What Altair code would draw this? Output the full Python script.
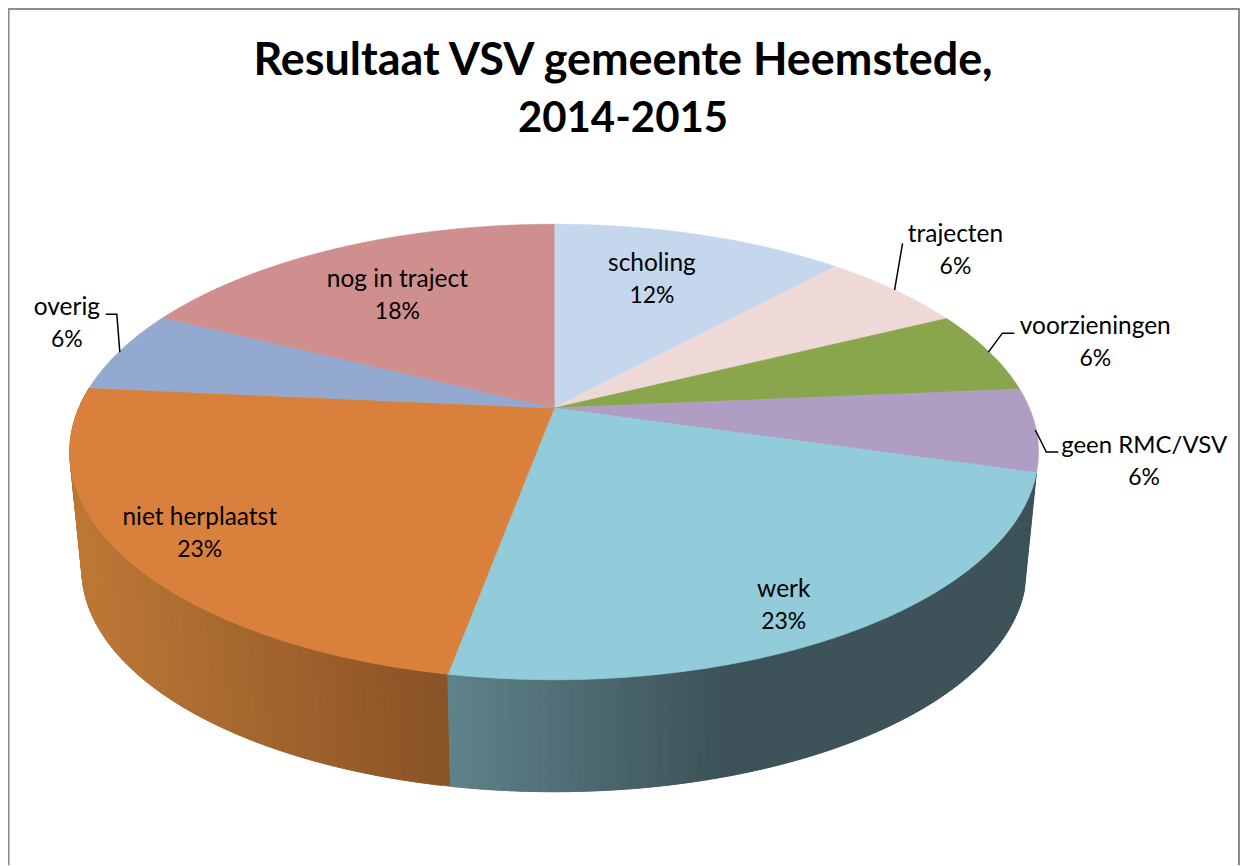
import math
import altair as alt
import pandas as pd

# --- chart data
categories = ["scholing", "trajecten", "voorzieningen", "geen RMC/VSV", "werk",
              "niet herplaatst", "overig", "nog in traject"]
slice_shares = [11.8, 5.9, 5.9, 5.9, 23.4, 23.6, 5.9, 17.6]
percent_labels = ["12%", "6%", "6%", "6%", "23%", "23%", "6%", "18%"]
title_lines = ["Resultaat VSV gemeente Heemstede,", "2014-2015"]

# --- styling and layout (page coordinates)
title_sizes = [45, 42]
name_sizes = [24.5, 24.5, 24.5, 24, 24.5, 24.5, 24.5, 24.5]
top_colors = ["#C5D7EC", "#EFD9D6", "#8AA64D", "#B09DC4", "#92CBDA", "#D9813C", "#93A9CF", "#CE8F8E"]
label_x = [653, 957, 1097, 1146, 785, 200, 67, 398]
label_y = [264, 235, 327, 446, 590, 518, 308, 280]
leaders = {
    "trajecten": [(896, 290), (904, 243)],
    "voorzieningen": [(990, 352), (1004, 333), (1016, 333)],
    "geen RMC/VSV": [(1037, 430), (1048, 452), (1060, 452)],
    "overig": [(120, 352), (117, 314), (106, 314)],
}
X0, X1, Y0, Y1 = 8, 1243, 8, 866
CX, CY, R, S, K = 555, 408, 476, 219.6, 0.193   # perspective of the disc
F, DY = 0.975, 119                                # lower rim of the wall


def top_pt(deg):
    a = math.radians(deg)
    u, v = math.sin(a), math.cos(a)
    w = 1 + K * v
    return CX + R * u / w, CY - S * v / w


def bot_pt(deg):
    x, y = top_pt(deg)
    return CX + F * (x - CX), CY + DY + F * (y - CY)


def mix(c1, c2, t):
    t = max(0.0, min(1.0, t))
    return "#" + "".join(f"{round(a + (b - a) * t):02x}" for a, b in zip(c1, c2))


def wall_color(name, x):
    if name == "werk":
        return mix((0x60, 0x84, 0x8C), (0x3D, 0x53, 0x59), (x - 450) / 280)
    return mix((0xBC, 0x77, 0x36), (0x8A, 0x53, 0x26), (x - 90) / 360)


def feature(ring, color):
    ring = [list(p) for p in ring]
    return {"type": "Feature",
            "geometry": {"type": "Polygon", "coordinates": [ring + [ring[0]]]},
            "properties": {"color": color}}


total = sum(slice_shares)
edges = [0.0]
for p in slice_shares:
    edges.append(edges[-1] + 360.0 * p / total)

features = [feature([(X0, Y0), (X1, Y0), (X1, Y1), (X0, Y1)], "transparent")]
# side wall: the two front slices, in narrow shaded strips painted from left to right,
# each overlapping the one before it so that no seams show
for i, name in reversed(list(enumerate(categories))):
    if name in ("werk", "niet herplaatst"):
        a = edges[i + 1]
        while a > edges[i] + 1e-6:
            b = max(a - 1.0, edges[i])
            x_mid = top_pt((a + b) / 2)[0]
            col = wall_color(name, x_mid)
            hi = min(a + 1.0, edges[i + 1])
            features.append(feature([top_pt(b), top_pt(hi), bot_pt(hi), bot_pt(b)], col))
            a = b
# top face
for i, name in enumerate(categories):
    n = max(2, int(edges[i + 1] - edges[i]) * 2)
    rim = [top_pt(edges[i] + (edges[i + 1] - edges[i]) * j / n) for j in range(n + 1)]
    features.append(feature([(CX, CY)] + rim, top_colors[i]))

shapes = alt.Chart(alt.Data(values=features)).mark_geoshape(strokeWidth=0.7).encode(
    color=alt.Color("properties.color:N", scale=None),
    stroke=alt.Stroke("properties.color:N", scale=None),
).project(type="identity")

xs = alt.Scale(domain=[X0, X1], nice=False, zero=False)
ys = alt.Scale(domain=[Y0, Y1], nice=False, zero=False, reverse=True)
X = lambda f: alt.X(f, scale=xs, axis=None)
Y = lambda f: alt.Y(f, scale=ys, axis=None)

name_df = pd.DataFrame({"x": label_x, "y": label_y, "t": categories, "s": name_sizes})
pct_df = pd.DataFrame({"x": label_x, "y": [v + 32 for v in label_y], "t": percent_labels})
names = alt.Chart(name_df).mark_text(
    font="Lato", color="#000000", align="center", baseline="middle"
).encode(x=X("x:Q"), y=Y("y:Q"), text="t:N", size=alt.Size("s:Q", scale=None))
pcts = alt.Chart(pct_df).mark_text(
    font="Lato", fontSize=23, color="#000000", align="center", baseline="middle"
).encode(x=X("x:Q"), y=Y("y:Q"), text="t:N")

title_df = pd.DataFrame({"x": [624, 624], "y": [60, 119], "t": title_lines, "s": title_sizes})
title = alt.Chart(title_df).mark_text(
    font="Lato", fontWeight="bold", color="#000000", align="center", baseline="middle"
).encode(x=X("x:Q"), y=Y("y:Q"), text="t:N", size=alt.Size("s:Q", scale=None))

leader_rows = [{"k": k, "o": j, "x": x, "y": y}
               for k, pts in leaders.items() for j, (x, y) in enumerate(pts)]
leader_lines = alt.Chart(pd.DataFrame(leader_rows)).mark_line(color="#000000", strokeWidth=1.5).encode(
    x=X("x:Q"), y=Y("y:Q"), detail="k:N", order="o:Q"
)

frame_rows = [{"o": 0, "x": 8.6, "y": 866}, {"o": 1, "x": 8.6, "y": 8.4},
              {"o": 2, "x": 1241, "y": 8.4}, {"o": 3, "x": 1241, "y": 866}]
frame = alt.Chart(pd.DataFrame(frame_rows)).mark_line(color="#8C8C8C", strokeWidth=2).encode(
    x=X("x:Q"), y=Y("y:Q"), order="o:Q"
)

chart = alt.layer(frame, shapes, leader_lines, names, pcts, title).properties(
    width=X1 - X0, height=Y1 - Y0, padding=0,
    autosize=alt.AutoSizeParams(type="none"),
    background="#FFFFFF",
).configure_view(stroke=None)

chart.save("out.html", embed_options={"renderer": "svg", "actions": False})
